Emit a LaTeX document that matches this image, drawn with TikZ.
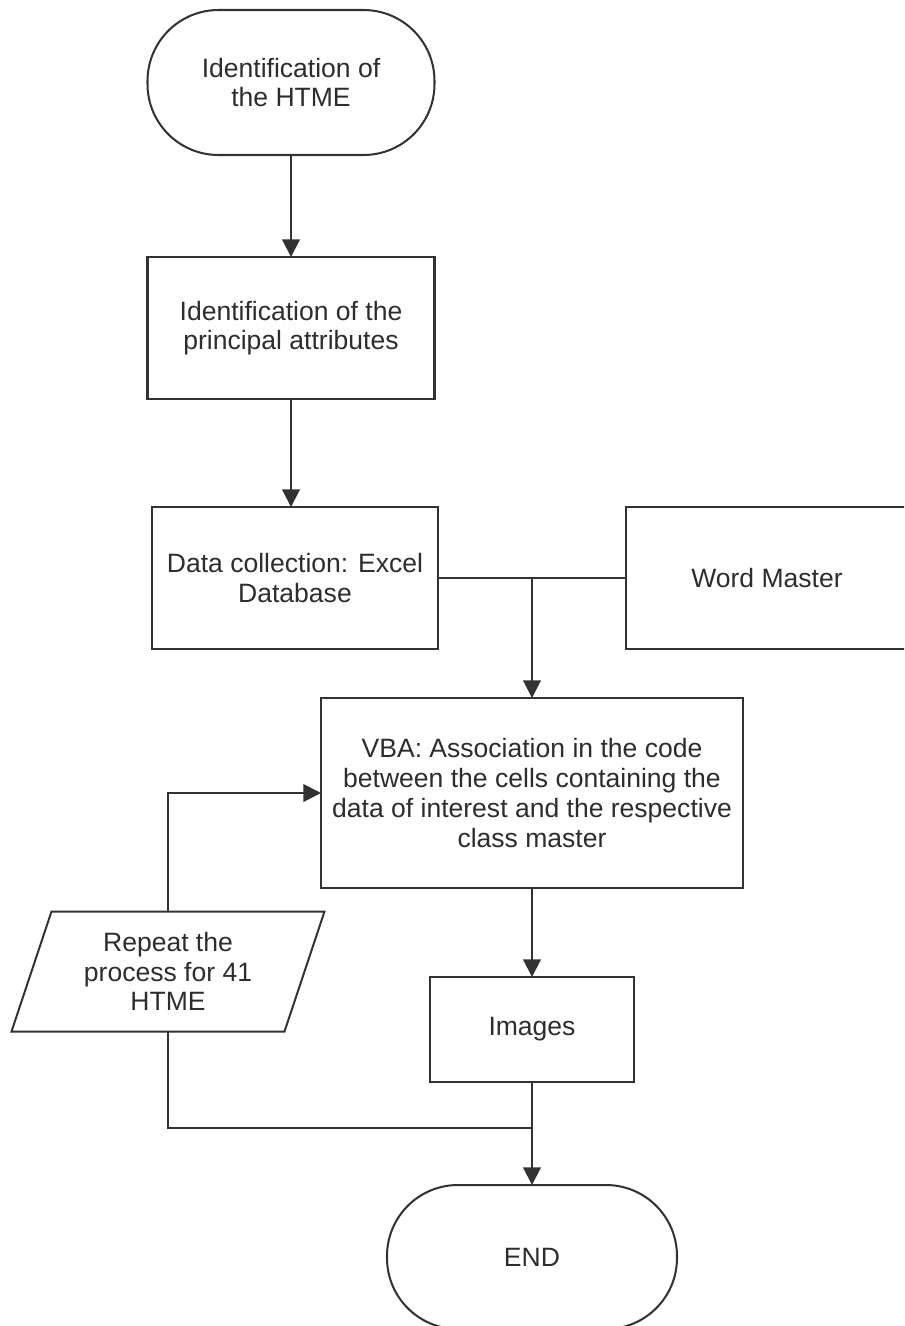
\documentclass[tikz,border=0pt]{standalone}
\usepackage{fontspec}
\setmainfont{Liberation Sans}
\usetikzlibrary{arrows.meta,calc}
\newdimen\upx
\upx=0.02cm
\definecolor{ink}{RGB}{50,50,50}
\definecolor{txt}{RGB}{45,45,45}
\tikzset{
  base/.style={inner sep=0pt, outer sep=0pt, align=center, text=txt,
    font=\fontsize{15.1pt}{16.9pt}\selectfont},
  boxnode/.style={base, draw=ink, line width=1.15pt, fill=white},
  terminal/.style={boxnode, rounded corners=71\upx},
  flow/.style={draw=ink, line width=1.15pt},
  arrow/.style={flow, -{Triangle[width=10pt,length=10pt]}},
}
\begin{document}
\begin{tikzpicture}[x=0.02cm, y=-0.02cm]
\useasboundingbox (0,0) rectangle (904,1326);
\clip (0,0) rectangle (904,1326);

% process boxes
\node[terminal, minimum width=287\upx, minimum height=145\upx] (start) at (291,82.5)
  {Identification of\\the HTME};
\node[boxnode, minimum width=287\upx, minimum height=142\upx] (attr) at (291,328)
  {Identification of the\\principal attributes};
\node[boxnode, minimum width=286\upx, minimum height=142\upx] (excel) at (295,578)
  {Data collection: Excel\\Database};
\node[boxnode, minimum width=282\upx, minimum height=142\upx] (word) at (767,578)
  {Word Master};
\node[boxnode, minimum width=422\upx, minimum height=190\upx] (vba) at (532,793)
  {VBA: Association in the code\\between the cells containing the\\data of interest and the respective\\class master};
\node[boxnode, minimum width=204\upx, minimum height=105\upx] (img) at (532,1029.5)
  {Images};
\node[terminal, minimum width=290\upx, minimum height=144\upx] (end) at (532,1257)
  {END};

% repeat instruction (parallelogram)
\node[base, minimum width=273\upx, minimum height=120\upx] (rep) at (168,971.5)
  {Repeat the\\process for 41\\HTME};
\draw[flow, fill=none]
  ($(rep.north west)+(20,0)$) -- ($(rep.north east)+(20,0)$) --
  ($(rep.south east)+(-20,0)$) -- ($(rep.south west)+(-20,0)$) -- cycle;

% junction points
\coordinate (merge) at (vba.north |- excel.east);
\coordinate (loop) at (img.south |- 0,1128);

% connectors
\draw[arrow] (start.south) -- (attr.north);
\draw[arrow] (attr.south) -- (attr.south |- excel.north);
\draw[flow] (excel.east) -- (word.west);
\draw[arrow] (merge) -- (vba.north);
\draw[arrow] (vba.south) -- (img.north);
\draw[arrow] (img.south) -- (end.north);
\draw[arrow] (rep.north) |- (vba.west);
\draw[flow] (rep.south) |- (loop);
\end{tikzpicture}
\end{document}
